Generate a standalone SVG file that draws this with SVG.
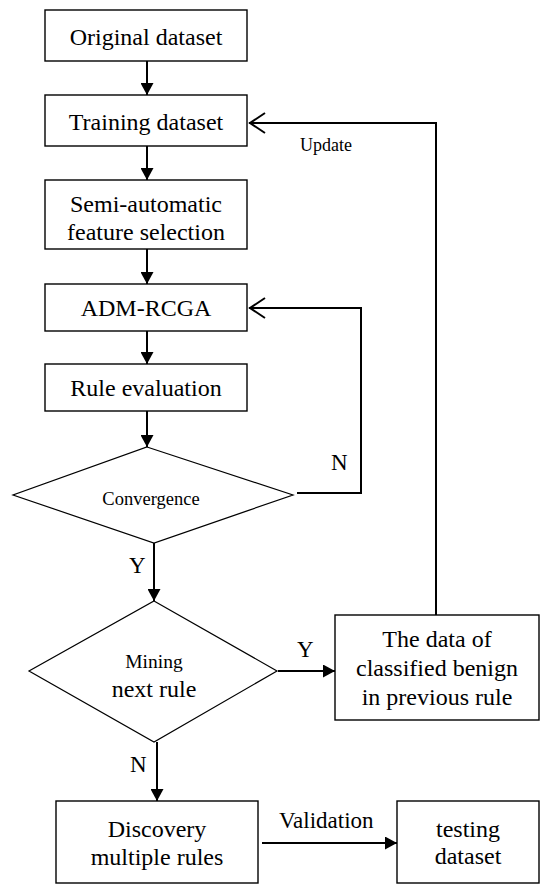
<svg xmlns="http://www.w3.org/2000/svg" width="550" height="892" viewBox="0 0 550 892">
<style>
.box{fill:#fff;stroke:#000;stroke-width:1.4}
.dia{fill:#fff;stroke:#000;stroke-width:1.2}
.t{font-family:"Liberation Serif","Times New Roman",serif;font-size:24px;fill:#000;text-anchor:middle}
.s{font-size:18.5px}
.m{font-size:19.5px}
.l{font-family:"Liberation Serif","Times New Roman",serif;font-size:23px;fill:#000}
.c{fill:none;stroke:#000;stroke-width:2}
.f{marker-end:url(#fa)}
.o{marker-end:url(#oa)}
</style>
<defs>
<marker id="fa" viewBox="0 0 12 13" refX="12" refY="6.5" markerWidth="12" markerHeight="13" orient="auto" markerUnits="userSpaceOnUse">
<path d="M0,0 L12,6.5 L0,13 z" fill="#000"/>
</marker>
<marker id="oa" viewBox="-18 -12 20 24" refX="0" refY="0" markerWidth="20" markerHeight="24" orient="auto" markerUnits="userSpaceOnUse">
<path d="M-16,-10 L-1,0 L-16,10" fill="none" stroke="#000" stroke-width="2"/>
</marker>
</defs>
<rect width="550" height="892" fill="#fff"/>
<g id="connectors">
<line class="c f" x1="147" y1="61" x2="147" y2="95"/>
<line class="c f" x1="147" y1="146" x2="147" y2="180"/>
<line class="c f" x1="147" y1="249" x2="147" y2="284"/>
<line class="c f" x1="147" y1="331" x2="147" y2="364"/>
<line class="c f" x1="147" y1="411" x2="147" y2="447"/>
<path class="c o" d="M297,493 H361 V308 H249"/>
<line class="c f" x1="154" y1="543" x2="154" y2="601"/>
<line class="c f" x1="278" y1="671" x2="335" y2="671"/>
<line class="c f" x1="157" y1="742" x2="157" y2="801"/>
<path class="c o" d="M436,615 V123 H249"/>
<line class="c f" x1="262" y1="843" x2="397" y2="843"/>
<text class="l" x="331" y="470">N</text>
<text class="l" x="129" y="573">Y</text>
<text class="l" x="297" y="657">Y</text>
<text class="l" x="130" y="772">N</text>
<text class="l" x="279" y="828">Validation</text>
<text class="l" x="300" y="151" style="font-size:18px">Update</text>
</g>
<g id="original">
<rect class="box" x="45" y="10" width="202" height="51"/>
<text class="t" x="146" y="45">Original dataset</text>
</g>
<g id="training">
<rect class="box" x="45" y="95" width="202" height="51"/>
<text class="t" x="146" y="130">Training dataset</text>
</g>
<g id="semi">
<rect class="box" x="45" y="180" width="202" height="69"/>
<text class="t" x="146" y="212">Semi-automatic</text>
<text class="t" x="146" y="240">feature selection</text>
</g>
<g id="admrcga">
<rect class="box" x="45" y="284" width="202" height="47"/>
<text class="t" x="146" y="316">ADM-RCGA</text>
</g>
<g id="rule-eval">
<rect class="box" x="45" y="364" width="202" height="47"/>
<text class="t" x="146" y="396">Rule evaluation</text>
</g>
<g id="convergence">
<polygon class="dia" points="147,447 293,495 154,543 13,495"/>
<text class="t s" x="151" y="505">Convergence</text>
</g>
<g id="mining">
<polygon class="dia" points="154,601 277,671 154,742 29,671"/>
<text class="t m" x="154" y="668">Mining</text>
<text class="t" x="154" y="697">next rule</text>
</g>
<g id="benign">
<rect class="box" x="335" y="615" width="204" height="105"/>
<text class="t" x="437" y="647">The data of</text>
<text class="t" x="437" y="676">classified benign</text>
<text class="t" x="437" y="705">in previous rule</text>
</g>
<g id="discovery">
<rect class="box" x="56" y="801" width="202" height="82"/>
<text class="t" x="157" y="837">Discovery</text>
<text class="t" x="157" y="865">multiple rules</text>
</g>
<g id="testing">
<rect class="box" x="397" y="801" width="142" height="82"/>
<text class="t" x="468" y="837">testing</text>
<text class="t" x="468" y="864">dataset</text>
</g>
</svg>
